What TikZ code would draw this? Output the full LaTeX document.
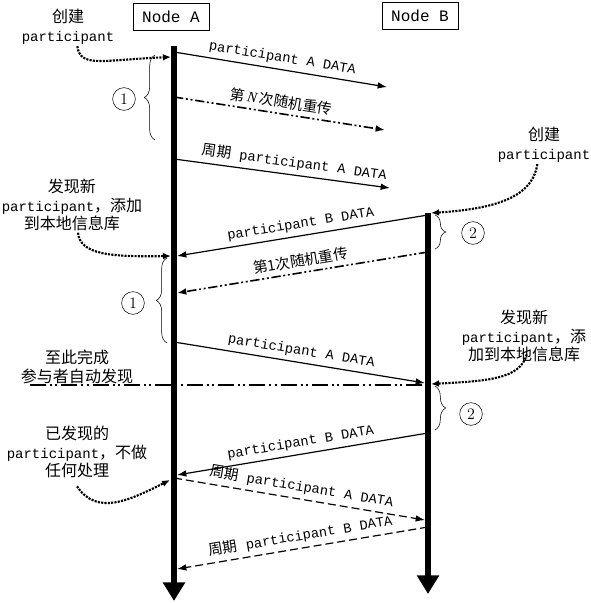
\documentclass[tikz,border=0pt]{standalone}
\usepackage{fontspec}
\setmonofont{Liberation Mono}
\newfontfamily\cjk{Noto Sans CJK SC}
\newfontfamily\serifit{Liberation Serif}
\usetikzlibrary{arrows.meta,decorations.pathreplacing}
\newcommand{\partc}{{\fontsize{10.5}{14}\selectfont\ttfamily participant}}
\tikzset{
	nodebox/.style={draw, minimum width=57pt, minimum height=20pt, font=\ttfamily\fontsize{12}{14}\selectfont},
	lifeline/.style={line width=3.8pt, -{Triangle[length=14pt,width=16pt]}},
	msg/.style={line width=0.9pt, -{Latex[length=7pt,width=5pt]}},
	retry/.style={msg, line width=1.2pt, dash pattern=on 7pt off 2pt on 1.5pt off 2pt on 1.5pt off 2pt},
	cyc/.style={msg, dash pattern=on 6pt off 3pt},
	lbl/.style={midway, above, sloped, font=\ttfamily\fontsize{10.3}{12}\selectfont},
	zhlbl/.style={midway, above, sloped, font=\cjk\fontsize{11}{13}\selectfont},
	note/.style={align=center, inner sep=1pt, font=\cjk\fontsize{12}{14}\selectfont},
	noteline/.style={line width=1.6pt, dash pattern=on 1.6pt off 0.9pt, -{Latex[length=6pt,width=5pt]}},
	num/.style={circle, draw, inner sep=0pt, minimum size=17pt, font=\fontsize{12}{14}\selectfont},
	bracel/.style={decorate, decoration={brace, amplitude=8pt}, thin}
}
\begin{document}
\begin{tikzpicture}[x=0.75pt,y=-0.75pt]
	\useasboundingbox (0,0) rectangle (591,603);
	\node [nodebox] (nodeA) at (171,17) {Node A};
	\node [nodebox] (nodeB) at (420,16) {Node B};

	\coordinate (Atop) at (174,46);
	\coordinate (Aend) at (174,601);
	\coordinate (Btop) at (428,213);
	\coordinate (Bend) at (428,594);
	\draw [lifeline] (Atop) -- (Aend);
	\draw [lifeline] (Btop) -- (Bend);

	\coordinate (a1) at (174,52);   \coordinate (b1) at (387,87);
	\coordinate (a2) at (174,97);   \coordinate (b2) at (385,130);
	\coordinate (a3) at (174,159);  \coordinate (b3) at (390,188);
	\coordinate (b4) at (428,215);  \coordinate (a4) at (177,256);
	\coordinate (b5) at (428,252);  \coordinate (a5) at (177,293);
	\coordinate (a6) at (174,342);  \coordinate (b6) at (425,383);
	\coordinate (b7) at (428,433);  \coordinate (a7) at (177,475);
	\coordinate (a8) at (174,478);  \coordinate (b8) at (425,520);
	\coordinate (b9) at (428,527);  \coordinate (a9) at (177,569);

	\draw [msg] (a1) -- (b1) node [lbl] {participant A DATA};
	\draw [retry] (a2) -- (b2) node [zhlbl] {第\,{\serifit\itshape N}\,次随机重传};
	\draw [msg] (a3) -- (b3) node [lbl, pos=0.55] {{\cjk\fontsize{11}{13}\selectfont 周期} participant A DATA};
	\draw [msg] (b4) -- (a4) node [lbl] {participant B DATA};
	\draw [retry] (b5) -- (a5) node [zhlbl] {第1次随机重传};
	\draw [msg] (a6) -- (b6) node [lbl] {participant A DATA};
	\draw [msg] (b7) -- (a7) node [lbl] {participant B DATA};
	\draw [cyc] (a8) -- (b8) node [lbl] {{\cjk\fontsize{11}{13}\selectfont 周期} participant A DATA};
	\draw [cyc] (b9) -- (a9) node [lbl] {{\cjk\fontsize{11}{13}\selectfont 周期} participant B DATA};

	\coordinate (done1) at (30,385);
	\coordinate (done2) at (428,385);
	\draw [line width=2.2pt, dash pattern=on 12pt off 3pt on 1.5pt off 2.5pt on 1.5pt off 3pt] (done1) -- (done2);

	\draw [bracel] (155,140) -- (155,55);
	\node [num] (one1) at (124,99) {1};
	\draw [bracel] (167,343) -- (167,258);
	\node [num] (one2) at (133,303) {1};
	\draw [bracel] (435,215) -- (435,249);
	\node [num] (two1) at (473,233) {2};
	\draw [bracel] (435,386) -- (435,430);
	\node [num] (two2) at (471,414) {2};

	\node [note] (create1) at (68,27) {创建\\\partc};
	\node [note] (create2) at (544,145) {创建\\\partc};
	\node [note] (found1) at (72,205) {发现新\\\partc，添加\\到本地信息库};
	\node [note] (found2) at (524,336) {发现新\\\partc，添\\加到本地信息库};
	\node [note] (doneText) at (77,367) {至此完成\\参与者自动发现};
	\node [note] (known) at (77,452) {已发现的\\\partc，不做\\任何处理};

	\coordinate (tA1) at (171,57);
	\coordinate (tB1) at (431,213);
	\coordinate (tA2) at (171,256);
	\coordinate (tB2) at (431,384);
	\coordinate (tA3) at (170,480);
	\draw [noteline] ([xshift=-5pt]create2.south) .. controls +(-5,35) and +(60,-4) .. (tB1);
	\draw [noteline] ([xshift=7pt]create1.south) .. controls +(3,22) and +(-70,3) .. (tA1);
	\draw [noteline] ([xshift=4.5pt]found1.south) .. controls +(2,22) and +(-60,1) .. (tA2);
	\draw [noteline] ([shift={(2pt,7pt)}]found2.south) .. controls +(-6,25) and +(55,-3) .. (tB2);
	\draw [noteline] ([yshift=-5pt]known.south) .. controls +(20,30) and +(-40,20) .. (tA3);
\end{tikzpicture}
\end{document}
